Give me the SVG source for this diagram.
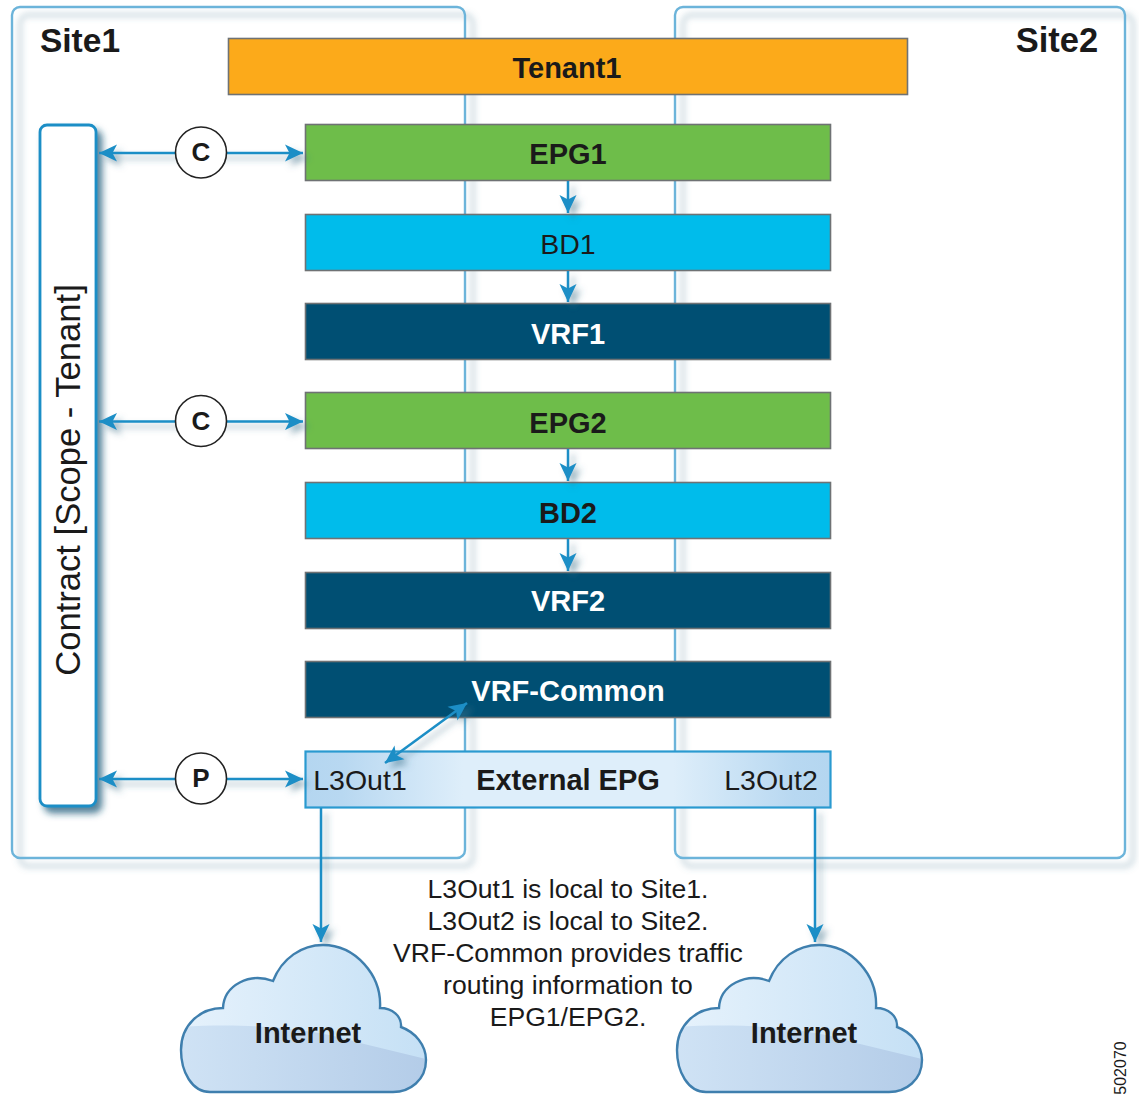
<svg xmlns="http://www.w3.org/2000/svg" width="1139" height="1095" viewBox="0 0 1139 1095">
<style>
text{font-family:"Liberation Sans",Arial,sans-serif;fill:#1a1a1a;text-anchor:middle}
.b{font-weight:bold}
.w{fill:#fff}
.box{stroke:#6f7274;stroke-width:1.6}
.site{fill:none;stroke:#6cb4da;stroke-width:2.4}
.conn{fill:none;stroke:#1b8ec6;stroke-width:2.5}
.circ{fill:#fff;stroke:#222;stroke-width:1.6}
.lab{font-size:28.500px}
.bl{font-size:29px}
.cl{stroke:#3f7fae;stroke-width:2.4}
</style>
<defs>
<filter id="sh" filterUnits="userSpaceOnUse" x="0" y="0" width="1139" height="1095">
<feDropShadow dx="8" dy="8" stdDeviation="3" flood-color="#4f7f96" flood-opacity="0.5"/>
</filter>
<filter id="sh2" filterUnits="userSpaceOnUse" x="0" y="0" width="1139" height="1095">
<feDropShadow dx="5" dy="6" stdDeviation="3.5" flood-color="#1d5a78" flood-opacity="0.75"/>
</filter>
<filter id="sh3" filterUnits="userSpaceOnUse" x="0" y="0" width="1139" height="1095">
<feDropShadow dx="5" dy="5" stdDeviation="3" flood-color="#3b6f88" flood-opacity="0.5"/>
</filter>
<marker id="ah" markerUnits="userSpaceOnUse" markerWidth="22" markerHeight="20" refX="19" refY="9" orient="auto-start-reverse">
<path d="M19,9 L1,0.500 L5.500,9 L1,17.500 Z" fill="#1b8ec6"/>
</marker>
<linearGradient id="ext" x1="0" x2="1" y1="0" y2="0">
<stop offset="0" stop-color="#b4d6f0"/><stop offset="0.07" stop-color="#b8d8f1"/><stop offset="0.3" stop-color="#deeefa"/><stop offset="0.7" stop-color="#deeefa"/><stop offset="0.93" stop-color="#b8d8f1"/><stop offset="1" stop-color="#b4d6f0"/>
</linearGradient>
<linearGradient id="cg" x1="0" x2="1" y1="0" y2="0">
<stop offset="0" stop-color="#e6f2fc"/><stop offset="1" stop-color="#c5e0f5"/>
</linearGradient>
<linearGradient id="cl" x1="0" x2="1" y1="0" y2="0">
<stop offset="0" stop-color="#d0e3f5"/><stop offset="1" stop-color="#b3cce8"/>
</linearGradient>
<path id="cp" d="M223,1008 C224,985 250,972 273,981 C282,958 302,945 323,945 C355,945 382,975 380,1008 C392,1008 402,1016 401,1027 C415,1032 426,1045 426,1060 C426,1080 410,1092 393,1092 L210,1092 C192,1092 181,1072 181,1050 C181,1025 200,1008 223,1008 Z"/>
<clipPath id="cc"><use href="#cp"/></clipPath>
<g id="cloud">
<use href="#cp" fill="url(#cg)"/>
<path clip-path="url(#cc)" d="M175,1027 C260,1022 320,1030 360,1043 L430,1060 L430,1095 L175,1095 Z" fill="url(#cl)"/>
<use href="#cp" fill="none" class="cl"/>
</g>
</defs>
<rect width="1139" height="1095" fill="#fff"/>
<g id="site1"><rect class="site" x="12" y="7" width="453" height="851" rx="8" filter="url(#sh)"/><text class="b" x="80" y="52" font-size="33.500">Site1</text></g>
<g id="site2"><rect class="site" x="675" y="7" width="450" height="851" rx="8" filter="url(#sh)"/><text class="b" x="1057" y="52" font-size="34.500">Site2</text></g>
<g id="tenant1"><rect class="box" x="228.500" y="38.500" width="679" height="56" fill="#fcaa1a"/><text class="b bl" x="567" y="78">Tenant1</text></g>
<g id="epg1"><rect class="box" x="305.500" y="124.500" width="525" height="56" fill="#6ebd4a"/><text class="b bl" x="568" y="164">EPG1</text></g>
<g id="bd1"><rect class="box" x="305.500" y="214.500" width="525" height="56" fill="#00bceb"/><text class="lab" x="568" y="254">BD1</text></g>
<g id="vrf1"><rect class="box" x="305.500" y="303.500" width="525" height="56" fill="#004f73"/><text class="b bl w" x="568" y="344">VRF1</text></g>
<g id="epg2"><rect class="box" x="305.500" y="392.500" width="525" height="56" fill="#6ebd4a"/><text class="b bl" x="568" y="433">EPG2</text></g>
<g id="bd2"><rect class="box" x="305.500" y="482.500" width="525" height="56" fill="#00bceb"/><text class="b bl" x="568" y="523">BD2</text></g>
<g id="vrf2"><rect class="box" x="305.500" y="572.500" width="525" height="56" fill="#004f73"/><text class="b bl w" x="568" y="611">VRF2</text></g>
<g id="vrf-common"><rect class="box" x="305.500" y="661.500" width="525" height="56" fill="#004f73"/><text class="b bl w" x="568" y="701">VRF-Common</text></g>
<g id="contract"><rect x="40" y="125" width="56" height="681" rx="7" fill="#fff" stroke="#1b8ec6" stroke-width="2.800" filter="url(#sh2)"/><text transform="translate(80,480) rotate(-90)" font-size="34.600">Contract [Scope - Tenant]</text></g>
<g id="external-epg"><rect x="305.500" y="751.500" width="525" height="56" fill="url(#ext)" stroke="#2a9ad0" stroke-width="2.200"/><text class="b bl" x="568" y="790">External EPG</text><text class="lab" x="360" y="790">L3Out1</text><text class="lab" x="771" y="790">L3Out2</text></g>
<g id="connectors" filter="url(#sh3)">
<line class="conn" x1="568" y1="181" x2="568" y2="213" marker-end="url(#ah)"/>
<line class="conn" x1="568" y1="271" x2="568" y2="302" marker-end="url(#ah)"/>
<line class="conn" x1="568" y1="449" x2="568" y2="481" marker-end="url(#ah)"/>
<line class="conn" x1="568" y1="539" x2="568" y2="571" marker-end="url(#ah)"/>
<line class="conn" x1="99" y1="153" x2="303" y2="153" marker-start="url(#ah)" marker-end="url(#ah)"/>
<line class="conn" x1="99" y1="421.500" x2="303" y2="421.500" marker-start="url(#ah)" marker-end="url(#ah)"/>
<line class="conn" x1="99" y1="779" x2="303" y2="779" marker-start="url(#ah)" marker-end="url(#ah)"/>
<line class="conn" x1="385" y1="763" x2="467" y2="703" marker-start="url(#ah)" marker-end="url(#ah)"/>
<line class="conn" x1="321" y1="808" x2="321" y2="942" marker-end="url(#ah)"/>
<line class="conn" x1="815" y1="808" x2="815" y2="942" marker-end="url(#ah)"/>
</g>
<g id="c1"><circle class="circ" cx="201" cy="152.500" r="25.500"/><text class="b" x="201" y="161" font-size="26">C</text></g>
<g id="c2"><circle class="circ" cx="201" cy="421" r="25.500"/><text class="b" x="201" y="430" font-size="26">C</text></g>
<g id="p"><circle class="circ" cx="201" cy="778.500" r="25.500"/><text class="b" x="201" y="787" font-size="26">P</text></g>
<g id="internet1"><use href="#cloud"/><text class="b bl" x="308" y="1043">Internet</text></g>
<g id="internet2"><use href="#cloud" x="496"/><text class="b bl" x="804" y="1043">Internet</text></g>
<g id="note" font-size="26.600">
<text x="568" y="898">L3Out1 is local to Site1.</text>
<text x="568" y="930">L3Out2 is local to Site2.</text>
<text x="568" y="962">VRF-Common provides traffic</text>
<text x="568" y="994">routing information to</text>
<text x="568" y="1026">EPG1/EPG2.</text>
</g>
<text transform="translate(1126,1068) rotate(-90)" font-size="16">502070</text>
</svg>
